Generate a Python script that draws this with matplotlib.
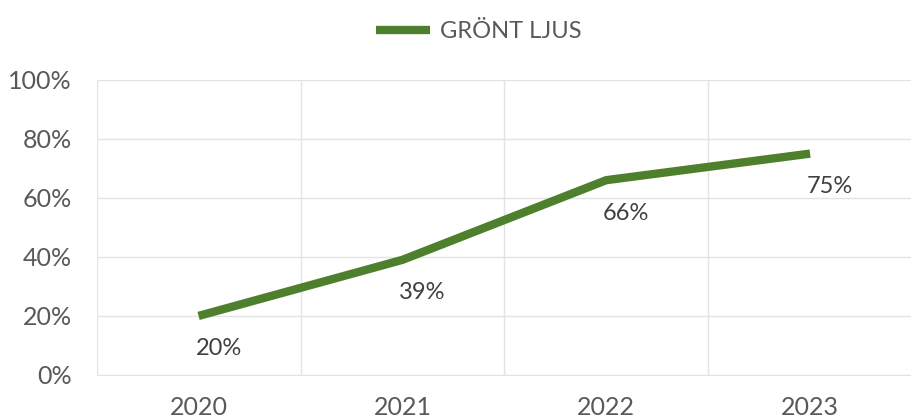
import numpy as np
from matplotlib import pyplot as plt
from matplotlib.ticker import PercentFormatter

plt.rcParams['font.family'] = ['Lato', 'DejaVu Sans']

years = ['2020', '2021', '2022', '2023']
values = [0.20, 0.39, 0.66, 0.75]
labels = ['20%', '39%', '66%', '75%']

green = '#4d7f2c'
grid_col = '#e3e3e3'

fig = plt.figure(figsize=(9.12, 4.18), dpi=100)
ax = fig.add_axes([0.106, 0.103, 0.894, 0.706])

x = np.arange(len(years))
ax.plot(x, values, color=green, lw=6, solid_capstyle='butt', label='GRÖNT LJUS')

# data labels sit below and a bit to the right of each point
for xi, v, t in zip(x, values, labels):
    ax.annotate(t, (xi, v), xytext=(20, -33), textcoords='offset pixels',
                ha='center', va='center', fontsize=17, color='#404040')

ax.set_xlim(-0.5, 3.5)
ax.set_ylim(0, 1)
ax.set_yticks(np.arange(0, 1.01, 0.2))
ax.yaxis.set_major_formatter(PercentFormatter(1.0, decimals=0))
ax.set_xticks(x)
ax.set_xticklabels(years)
ax.set_xticks(np.arange(-0.5, 3.0, 1.0), minor=True)

ax.grid(axis='y', color=grid_col, lw=1)
ax.grid(axis='x', which='minor', color=grid_col, lw=1)
ax.set_axisbelow(True)
for s in ['top', 'right', 'left']:
    ax.spines[s].set_visible(False)
ax.spines['bottom'].set_color(grid_col)
ax.tick_params(which='both', length=0)
ax.tick_params(axis='y', labelsize=18, labelcolor='#595959', pad=18)
ax.tick_params(axis='x', labelsize=18, labelcolor='#595959', pad=15)

fig.legend(loc='upper center', bbox_to_anchor=(0.525, 1.0), frameon=False,
           fontsize=17, labelcolor='#595959', handlelength=2.3, handletextpad=0.4)

fig.savefig('out.png', dpi=100)
